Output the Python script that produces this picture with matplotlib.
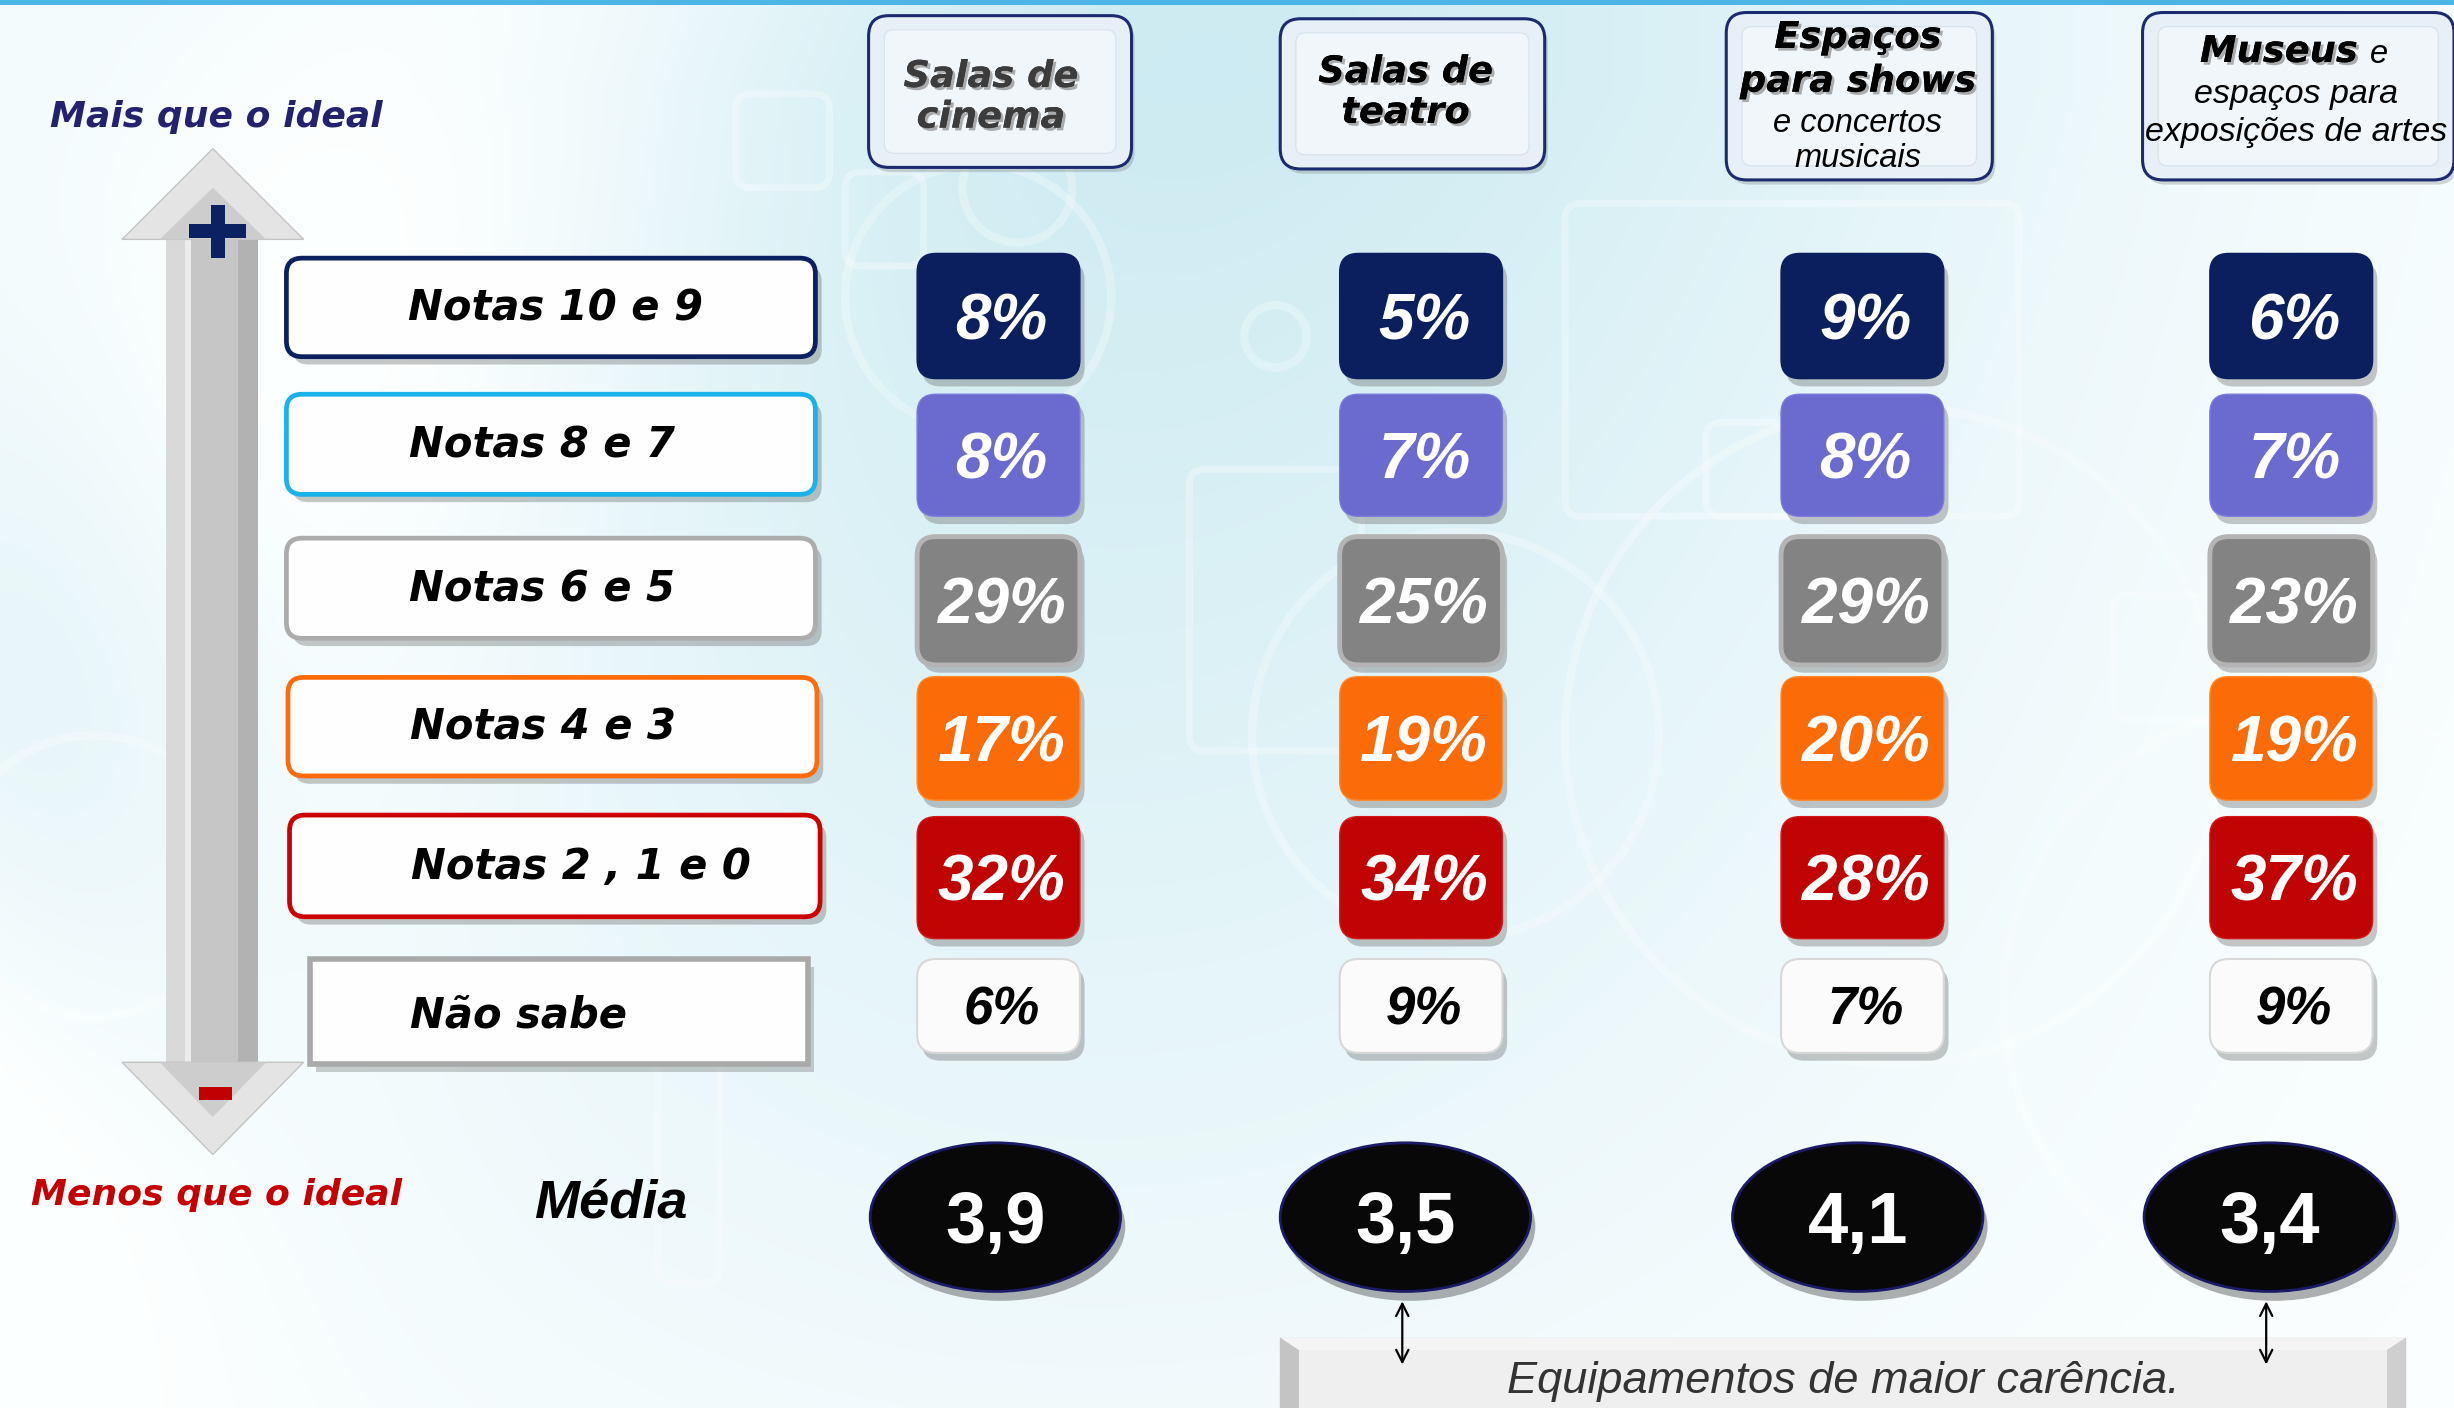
import numpy as np
import matplotlib
matplotlib.use("Agg")
import matplotlib.pyplot as plt
from matplotlib.patches import FancyBboxPatch, Ellipse, Polygon, Rectangle, Circle
import matplotlib.patheffects as pe

# ---------------- data ----------------
equipamentos = ["Salas de cinema", "Salas de teatro",
                "Espaços para shows e concertos musicais",
                "Museus e espaços para exposições de artes"]
faixas = ["Notas 10 e 9", "Notas 8 e 7", "Notas 6 e 5", "Notas 4 e 3",
          "Notas 2 , 1 e 0", "Não sabe"]
notas_10_9 = [8, 5, 9, 6]
notas_8_7 = [8, 7, 8, 7]
notas_6_5 = [29, 25, 29, 23]
notas_4_3 = [17, 19, 20, 19]
notas_2_1_0 = [32, 34, 28, 37]
nao_sabe = [6, 9, 7, 9]
media = [3.9, 3.5, 4.1, 3.4]
maior_carencia = [1, 3]          # indices of equipamentos with the lowest average
rotulo_mais = "Mais que o ideal"
rotulo_menos = "Menos que o ideal"
rotulo_media = "Média"
nota_rodape = "Equipamentos de maior carência."

series = [notas_10_9, notas_8_7, notas_6_5, notas_4_3, notas_2_1_0, nao_sabe]

# ---------------- layout / style ----------------
W, H = 1568, 900
PT = 72 * (2454 / W) / 100.0      # points per layout unit
HEAVY = "DejaVu Sans"
ARIAL = "Liberation Sans"

fig = plt.figure(figsize=(24.54, 14.08), dpi=100)
ax = fig.add_axes([0, 0, 1, 1])


def txt(x, y, s, size, family=ARIAL, weight="bold", style="italic",
        color="black", ha="center", shadow=False, z=10):
    cap = 0.72 if family == ARIAL else 0.73
    effects = None
    if shadow:
        effects = [pe.withSimplePatchShadow(offset=(2, -2), shadow_rgbFace="#7a7a7a", alpha=0.6),
                   pe.Normal()]
    ax.text(x, y + 0.5 * cap * size / PT, s, fontsize=size, family=family,
            weight=weight, style=style, color=color, ha=ha, va="baseline",
            zorder=z, path_effects=effects)


def rbox(x0, y0, x1, y1, r, fc, ec, lw, z=3, shadow=True, shadow_off=(4, 5), sh_alpha=0.35):
    if shadow:
        ax.add_patch(FancyBboxPatch((x0 + shadow_off[0], y0 + shadow_off[1]), x1 - x0, y1 - y0,
                                    boxstyle=f"round,pad=0,rounding_size={r}",
                                    fc="#606060", ec="none", alpha=sh_alpha, zorder=z - 0.5))
    ax.add_patch(FancyBboxPatch((x0, y0), x1 - x0, y1 - y0,
                                boxstyle=f"round,pad=0,rounding_size={r}",
                                fc=fc, ec=ec, lw=lw, zorder=z))


# background gradient
yy, xx = np.mgrid[0:H:2, 0:W:2].astype(float)
w = 0.95 * np.exp(-((xx - 700) / 620) ** 2) * np.clip(1.05 - yy / 1100, 0, 1)
w += 0.75 * np.exp(-((xx - 20) / 170) ** 2) * np.exp(-((yy - 470) / 260) ** 2)
w -= 0.55 * np.exp(-((xx + yy * 0.6 - 330) / 260) ** 2)
w = np.clip(w, 0, 1)
c_white = np.array([0.99, 1.0, 1.0])
c_cyan = np.array([0.79, 0.915, 0.945])
img = c_white * (1 - w[..., None]) + c_cyan * w[..., None]
ax.imshow(img, extent=[0, W, H, 0], zorder=0, aspect="auto", interpolation="bilinear")

# faint background decorations
for (cx, cy, r) in [(625, 190, 85), (815, 215, 20), (650, 120, 35), (930, 470, 130),
                    (1210, 470, 210), (60, 560, 90), (1470, 640, 190)]:
    ax.add_patch(Circle((cx, cy), r, fill=False, ec="white", lw=6, alpha=0.28, zorder=1))
for (x0, y0, ww, hh) in [(1000, 130, 290, 200), (470, 60, 60, 60), (540, 110, 50, 60),
                         (760, 300, 110, 180), (1090, 270, 60, 60), (420, 620, 40, 200),
                         (1350, 380, 80, 80)]:
    ax.add_patch(FancyBboxPatch((x0, y0), ww, hh, boxstyle="round,pad=0,rounding_size=10",
                                fill=False, ec="white", lw=5, alpha=0.3, zorder=1))
ax.add_patch(Rectangle((0, 0), W, 3, fc="#4db5e5", ec="none", zorder=2))

# ---------------- left arrow ----------------
ax.add_patch(Rectangle((106, 150), 59, 532, fc="#c6c6c6", ec="none", zorder=2))
ax.add_patch(Rectangle((106, 150), 12, 532, fc="#d9d9d9", ec="none", zorder=2))
ax.add_patch(Rectangle((118, 150), 4, 532, fc="#ececec", ec="none", zorder=2))
ax.add_patch(Rectangle((152, 150), 13, 532, fc="#b2b2b2", ec="none", zorder=2))
ax.add_patch(Polygon([(136, 95), (78, 153), (194, 153)], closed=True,
                     fc="#e4e4e4", ec="#c4c4c4", lw=1, zorder=3))
ax.add_patch(Polygon([(136, 120), (102, 153), (170, 153)], closed=True,
                     fc="#cdcdcd", ec="none", zorder=3))
ax.add_patch(Polygon([(78, 679), (194, 679), (136, 738)], closed=True,
                     fc="#e4e4e4", ec="#c4c4c4", lw=1, zorder=3))
ax.add_patch(Polygon([(102, 679), (170, 679), (136, 714)], closed=True,
                     fc="#cdcdcd", ec="none", zorder=3))
ax.add_patch(Rectangle((135, 131), 8.5, 34, fc="#0b2161", ec="none", zorder=4))
ax.add_patch(Rectangle((121, 143.5), 36, 8.5, fc="#0b2161", ec="none", zorder=4))
ax.add_patch(Rectangle((127, 695), 21, 8, fc="#c00000", ec="none", zorder=4))

txt(32, 73, rotulo_mais, 26, family=HEAVY, color="#22226e", ha="left")
txt(20, 762, rotulo_menos, 26, family=HEAVY, color="#c40000", ha="left")
txt(390, 766, rotulo_media, 39, family=ARIAL, color="black")

# ---------------- left category boxes ----------------
label_boxes = [(183, 165, 521, 228), (183, 252, 521, 316), (183, 344, 521, 408),
               (184, 433, 522, 496), (185, 521, 524, 586)]
label_edges = ["#0c1f5f", "#19b2ea", "#acacac", "#ff6a0a", "#cc0000"]
label_tx = [355, 346, 346, 347, 371, 331]
label_ty = [195, 283, 375, 463, 552, 647]
for i, (x0, y0, x1, y1) in enumerate(label_boxes):
    rbox(x0, y0, x1, y1, 10, "#fefefe", label_edges[i], 3.4, z=3)
ax.add_patch(Rectangle((202, 618), 318, 67, fc="#707070", ec="none", alpha=0.35, zorder=2.5))
ax.add_patch(Rectangle((198, 613), 318, 67, fc="#fefefe", ec="#a9a9a9", lw=4, zorder=3))
for i, lab in enumerate(faixas):
    txt(label_tx[i], label_ty[i], lab, 30, family=HEAVY, color="black")

# ---------------- column headers ----------------
head_boxes = [(555, 10, 723, 107), (818, 12, 987, 108), (1103, 8, 1273, 115), (1369, 8, 1568, 115)]
for (x0, y0, x1, y1) in head_boxes:
    rbox(x0, y0, x1, y1, 13, "#e8f0f7", "#1c2a70", 2.2, z=3, shadow=True,
         shadow_off=(2, 3), sh_alpha=0.25)
    ax.add_patch(FancyBboxPatch((x0 + 10, y0 + 9), x1 - x0 - 20, y1 - y0 - 18,
                                boxstyle="round,pad=0,rounding_size=6",
                                fc="#f1f6fb", ec="#dbe3ec", lw=1, zorder=3.2))

hx = [633, 898, 1187, 1467]
txt(hx[0], 47, "Salas de", 26.5, family=HEAVY, color="#3c3c3c", shadow=True)
txt(hx[0], 73, "cinema", 26.5, family=HEAVY, color="#3c3c3c", shadow=True)
txt(hx[1], 44, "Salas de", 26.5, family=HEAVY, color="black", shadow=True)
txt(hx[1], 70, "teatro", 26.5, family=HEAVY, color="black", shadow=True)
txt(hx[2], 22, "Espaços", 26.5, family=HEAVY, color="black", shadow=True)
txt(hx[2], 50, "para shows", 26.5, family=HEAVY, color="black", shadow=True)
txt(hx[2], 77, "e concertos", 23.5, family=ARIAL, weight="normal", color="black")
txt(hx[2], 99, "musicais", 23.5, family=ARIAL, weight="normal", color="black")
txt(1456, 31, "Museus", 26.5, family=HEAVY, color="black", shadow=True)
txt(1520, 33, "e", 23.5, family=ARIAL, weight="normal", color="black")
txt(hx[3], 58, "espaços para", 24.5, family=ARIAL, weight="normal", color="black")
txt(hx[3], 82, "exposições de artes", 24.5, family=ARIAL, weight="normal", color="black")

# ---------------- tiles ----------------
col_x = [638, 908, 1190, 1464]
row_y = [202, 291, 384, 472, 561, 643]
row_h = [80, 78, 82, 79, 78, 60]
tile_w = 104
tile_fc = ["#0b1f5e", "#6b6bcf", "#838383", "#fb6b08", "#c00303", "#fbfbfb"]
tile_ec = ["#0b1f5e", "#7a7ade", "#b4b4b4", "#ff8a2a", "#d41a1a", "#d8d8d8"]
tile_lw = [1, 1, 3.5, 1, 1, 1.5]
tile_tc = ["white", "white", "white", "white", "white", "black"]
tile_fs = [46, 46, 46, 46, 46, 38]

for r, vals in enumerate(series):
    for c, v in enumerate(vals):
        x0 = col_x[c] - tile_w / 2
        y0 = row_y[r] - row_h[r] / 2
        rbox(x0, y0, x0 + tile_w, y0 + row_h[r], 12, tile_fc[r], tile_ec[r], tile_lw[r],
             z=4, shadow=True, shadow_off=(3, 5), sh_alpha=0.35)
        txt(col_x[c] + 2, row_y[r], f"{v}%", tile_fs[r], family=ARIAL, color=tile_tc[r], z=6)

# ---------------- averages ----------------
oval_x = [636, 898, 1187, 1450]
oval_y = 778
for c, m in enumerate(media):
    ax.add_patch(Ellipse((oval_x[c] + 3, oval_y + 6), 160, 95, fc="#505050", ec="none",
                         alpha=0.45, zorder=4))
    ax.add_patch(Ellipse((oval_x[c], oval_y), 160, 95, fc="#080808", ec="#1a1a66",
                         lw=2, zorder=5))
    txt(oval_x[c], oval_y, f"{m:.1f}".replace(".", ","), 52, family=ARIAL,
        style="normal", color="white", z=6)

# ---------------- footer banner ----------------
bx0, bx1, by0 = 818, 1537, 855
ax.add_patch(Rectangle((bx0, by0), bx1 - bx0, H - by0 + 5, fc="#d9d9d9", ec="#c8c8c8", lw=1, zorder=3))
ax.add_patch(Polygon([(bx0, by0), (bx0 + 12, by0 + 8), (bx0 + 12, H + 5), (bx0, H + 5)],
                     closed=True, fc="#c4c4c4", ec="none", zorder=3.1))
ax.add_patch(Polygon([(bx1, by0), (bx1 - 12, by0 + 8), (bx1 - 12, H + 5), (bx1, H + 5)],
                     closed=True, fc="#cfcfcf", ec="none", zorder=3.1))
ax.add_patch(Polygon([(bx0, by0), (bx1, by0), (bx1 - 12, by0 + 8), (bx0 + 12, by0 + 8)],
                     closed=True, fc="#f4f4f4", ec="none", zorder=3.1))
ax.add_patch(Rectangle((bx0 + 12, by0 + 8), bx1 - bx0 - 24, H - by0, fc="#efefef", ec="none", zorder=3.1))
txt(1178, 880, nota_rodape, 32.5, family=ARIAL, weight="normal", color="#333333", z=6)

for c in maior_carencia:
    ax.annotate("", xy=(oval_x[c] - 2, 874), xytext=(oval_x[c] - 2, 830),
                arrowprops=dict(arrowstyle="<->", lw=1.6, color="black", mutation_scale=22),
                zorder=7)

ax.set_xlim(0, W)
ax.set_ylim(H, 0)
ax.axis("off")
fig.savefig("out.png", dpi=100)
